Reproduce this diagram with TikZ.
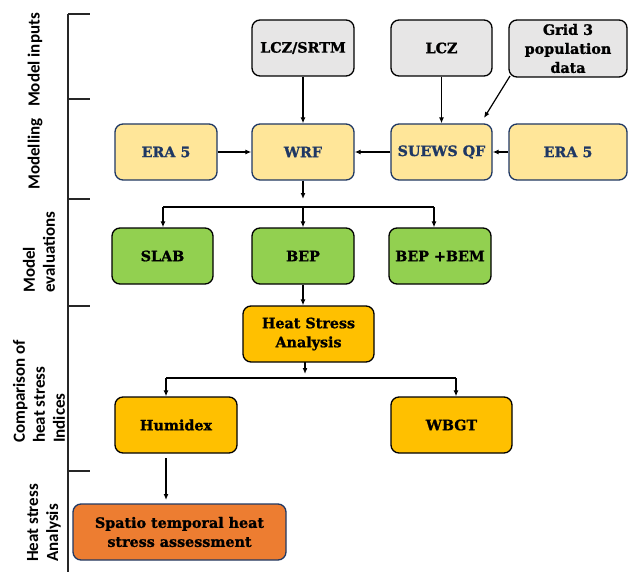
\documentclass[tikz,border=0pt]{standalone}
\usepackage{fontspec}
\usetikzlibrary{arrows.meta}
\newfontfamily\boxfont{DejaVu Serif Bold}[FakeBold=1.2]
\newfontfamily\sidefont{Carlito}
\definecolor{greyfill}{HTML}{E7E6E6}
\definecolor{paleyellow}{HTML}{FFE699}
\definecolor{navy}{HTML}{1F3864}
\definecolor{greenfill}{HTML}{92D050}
\definecolor{amber}{HTML}{FFC000}
\definecolor{orangefill}{HTML}{ED7D31}
\begin{document}
\begin{tikzpicture}[x=1pt,y=-1pt,
  box/.style={draw=black, rounded corners=8pt, line width=1.3pt, minimum height=56pt,
    align=center, inner sep=0pt, font=\boxfont\fontsize{14.3}{19}\selectfont},
  greybox/.style={box, fill=greyfill},
  yelbox/.style={box, fill=paleyellow, draw=navy, text=navy},
  grnbox/.style={box, fill=greenfill},
  ambbox/.style={box, fill=amber},
  orgbox/.style={box, fill=orangefill, draw=navy},
  arr/.style={line width=1.2pt, -{Latex[length=6pt,width=5pt]}},
  bus/.style={line width=1.2pt},
  axis/.style={line width=1.2pt, draw=black!85},
  side/.style={rotate=90, align=left, inner sep=0pt, font=\sidefont\bfseries\fontsize{17}{20}\selectfont}
]
\useasboundingbox (0,0) rectangle (628,572);
% side axis
\coordinate (ax0) at (68,14);
\coordinate (ax1) at (68,99);
\coordinate (ax2) at (68,199);
\coordinate (ax3) at (68,306);
\coordinate (ax4) at (68,471);
\coordinate (axend) at (68,572);
\draw[axis] (ax0) -- (axend);
\foreach \c in {ax0,ax1,ax2,ax3,ax4} \draw[axis] (\c) -- ++(22,0);
% side labels
\node[side] (l1) at (35,60) {Model inputs};
\node[side] (l2) at (35,154) {Modelling};
\node[side, anchor=west] (l3) at (39,293) {Model\\evaluations};
\node[side, anchor=west] (l4) at (39,443) {Comparison of\\heat stress\\Indices};
\node[side, anchor=west] (l5) at (44,562) {Heat stress\\Analysis};
% boxes
\node[greybox, minimum width=102pt] (lczsrtm) at (303,48) {LCZ/SRTM};
\node[greybox, minimum width=101pt] (lcz) at (441.5,48) {LCZ};
\node[greybox, minimum width=118pt, minimum height=57pt] (grid) at (568,48.5) {Grid 3\\population\\data};
\node[yelbox, minimum width=102pt] (era1) at (166,152) {ERA 5};
\node[yelbox, minimum width=102pt] (wrf) at (303,152) {WRF};
\node[yelbox, minimum width=101pt] (suews) at (441.5,152) {SUEWS QF};
\node[yelbox, minimum width=118pt] (era2) at (568,152) {ERA 5};
\node[grnbox, minimum width=101pt] (slab) at (162.5,256) {SLAB};
\node[grnbox, minimum width=102pt] (bep) at (303,256) {BEP};
\node[grnbox, minimum width=102pt] (bepbem) at (440,256) {BEP +BEM};
\node[ambbox, minimum width=131pt] (hsa) at (308.5,334) {Heat Stress\\Analysis};
\node[ambbox, minimum width=122pt] (humidex) at (176,425) {Humidex};
\node[ambbox, minimum width=121pt] (wbgt) at (451.5,425) {WBGT};
\node[orgbox, minimum width=213pt] (spatio) at (179.5,532) {Spatio temporal heat\\stress assessment};
% connectors
\draw[arr] (lczsrtm.south) -- (wrf.north);
\draw[arr] (lcz.south) -- (suews.north);
\coordinate (gstart) at (510,76);
\coordinate (gend) at (484,118);
\draw[arr] (gstart) -- (gend);
\draw[arr] (era1.east) -- (wrf.west);
\draw[arr] (suews.west) -- (wrf.east);
\draw[arr] (era2.west) -- (suews.east);
% WRF fan-out
\coordinate (w1) at (303,199);
\coordinate (busL) at (163,207);
\coordinate (busM) at (303,207);
\coordinate (busR) at (434,207);
\draw[arr] (wrf.south) -- (w1);
\draw[bus] (busL) -- (busR);
\draw[arr] (busL) -- (busL |- slab.north);
\draw[arr] (busM) -- (bep.north);
\draw[arr] (busR) -- (busR |- bepbem.north);
\draw[arr] (bep.south) -- (bep.south |- hsa.north);
% HSA fan-out
\coordinate (h0) at (305,362);
\coordinate (h1) at (305,374);
\coordinate (bus2L) at (166,378);
\coordinate (bus2R) at (456,378);
\draw[arr] (h0) -- (h1);
\draw[bus] (bus2L) -- (bus2R);
\draw[arr] (bus2L) -- (bus2L |- humidex.north);
\draw[arr] (bus2R) -- (bus2R |- wbgt.north);
\coordinate (u0) at (166,458);
\coordinate (u1) at (166,500);
\draw[arr] (u0) -- (u1);
\end{tikzpicture}
\end{document}
